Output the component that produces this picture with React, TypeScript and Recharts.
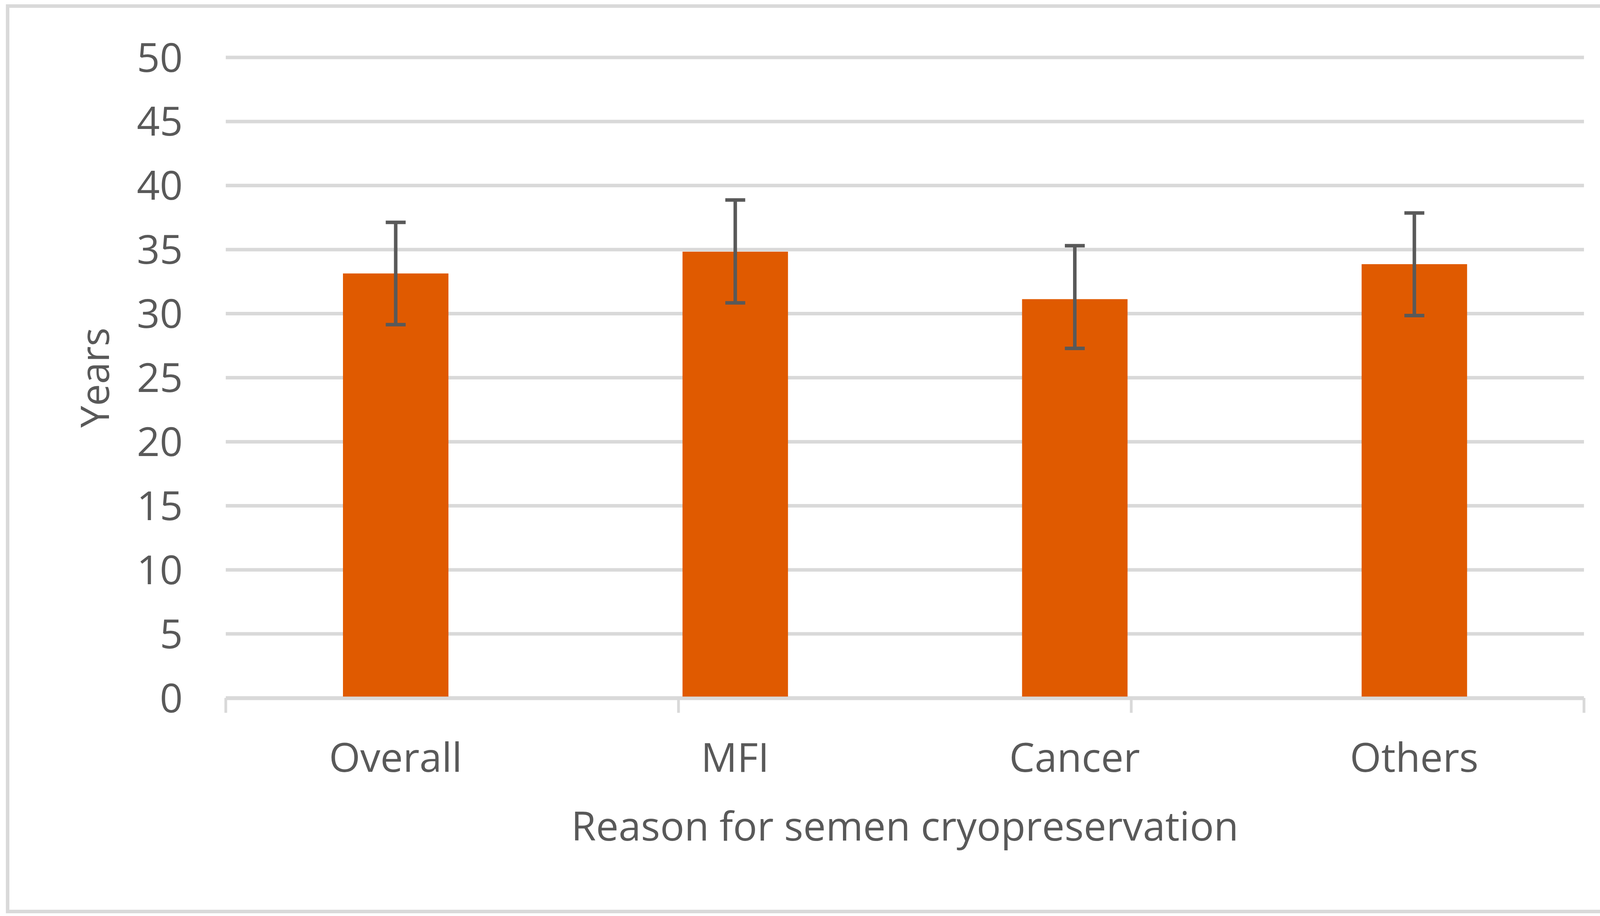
import React from 'react';
import { BarChart, Bar, XAxis, YAxis, CartesianGrid, ErrorBar, Label } from 'recharts';

const categories = ['Overall', 'MFI', 'Cancer', 'Others'];
const meanAge = [33.14, 34.84, 31.13, 33.86];
const errLower = [4.0, 4.0, 3.84, 4.01];
const errUpper = [3.99, 4.03, 4.17, 4.0];
const yTicks = [0, 5, 10, 15, 20, 25, 30, 35, 40, 45, 50];
const boundaryTicks = [0, 1, 2, 3, 4];

const data = categories.map((name, i) => ({
  name,
  mean: meanAge[i],
  err: [errLower[i], errUpper[i]],
}));

const FONT = "'Open Sans', 'Noto Sans', sans-serif";
const TEXT = '#595959';
const GRID = '#d9d9d9';
const FS = 103;

const EmptyTick = () => <g />;

export default function App() {
  return (
    <div style={{ position: 'absolute', left: 0, top: 0, width: 4197, height: 2344, background: '#ffffff' }}>
      <div
        style={{
          position: 'absolute',
          left: 15,
          top: 11,
          width: 4175,
          height: 2326,
          border: `9px solid ${GRID}`,
          boxSizing: 'border-box',
        }}
      />
      <div style={{ position: 'absolute', left: 0, top: 0 }}>
        <BarChart
          width={4197}
          height={2344}
          data={data}
          margin={{ top: 147, right: 142, left: 0, bottom: 556 }}
        >
          <CartesianGrid
            xAxisId="cat"
            vertical={false}
            stroke={GRID}
            strokeWidth={9}
          />
          <XAxis
            xAxisId="bnd"
            type="number"
            domain={[0, 4]}
            ticks={boundaryTicks}
            interval={0}
            allowDataOverflow
            height={1}
            axisLine={false}
            tick={EmptyTick}
            tickSize={38}
            tickLine={{ stroke: GRID, strokeWidth: 7 }}
          />
          <XAxis
            xAxisId="cat"
            dataKey="name"
            height={1}
            interval={0}
            axisLine={{ stroke: GRID, strokeWidth: 9 }}
            tickLine={false}
            tickSize={0}
            tickMargin={115}
            tick={{ fill: TEXT, fontSize: FS, fontFamily: FONT }}
          >
            <Label
              value="Reason for semen cryopreservation"
              position="bottom"
              offset={290}
              fill={TEXT}
              fontSize={FS}
              fontFamily={FONT}
            />
          </XAxis>
          <YAxis
            domain={[0, 50]}
            ticks={yTicks}
            interval={0}
            width={578}
            axisLine={false}
            tickLine={false}
            tickSize={0}
            tickMargin={110}
            tick={{ fill: TEXT, fontSize: FS, fontFamily: FONT }}
          >
            <Label
              value="Years"
              angle={-90}
              position="insideLeft"
              offset={243}
              fill={TEXT}
              fontSize={100}
              fontFamily={FONT}
              style={{ textAnchor: 'middle' }}
            />
          </YAxis>
          <Bar xAxisId="cat" dataKey="mean" fill="#E05A00" barSize={270} isAnimationActive={false}>
            <ErrorBar dataKey="err" width={25.5} strokeWidth={9} stroke={TEXT} direction="y" isAnimationActive={false} />
          </Bar>
        </BarChart>
      </div>
    </div>
  );
}
